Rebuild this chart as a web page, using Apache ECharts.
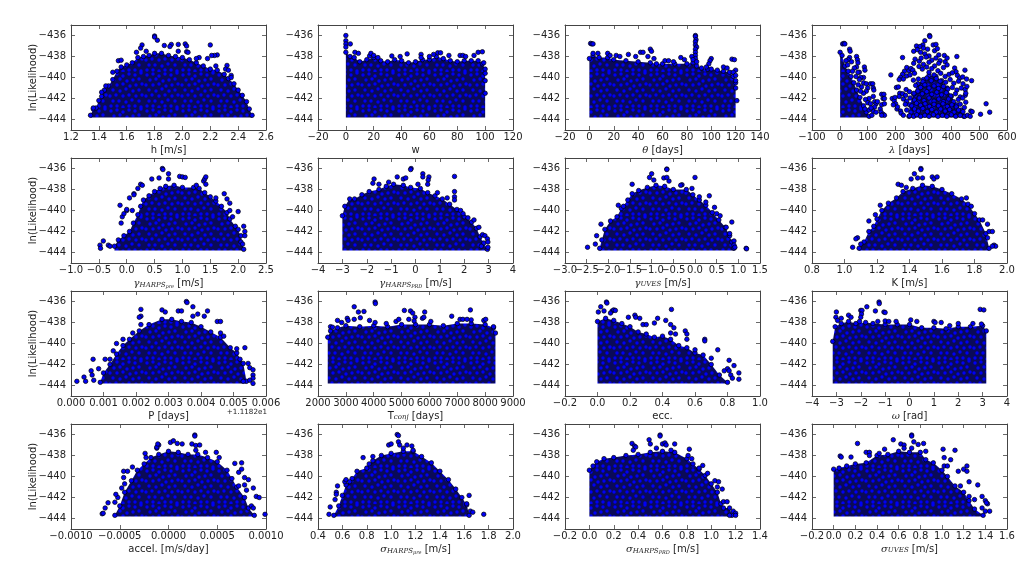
<!DOCTYPE html>
<html><head><meta charset="utf-8">
<style>html,body{margin:0;padding:0;background:#fff}#c{width:1035px;height:570px}</style>
<script src="https://cdn.jsdelivr.net/npm/echarts@6/dist/echarts.min.js"></script>
</head><body><div id="c"></div>
<script>
const yTicks=['−444','−442','−440','−438','−436'];
const floorLL=-443.8;

const t_h=['1.2','1.4','1.6','1.8','2.0','2.2','2.4','2.6'];
const t_w=['−20','0','20','40','60','80','100','120'];
const t_theta=['−20','0','20','40','60','80','100','120','140'];
const t_lambda=['−100','0','100','200','300','400','500','600'];
const t_gpre=['−1.0','−0.5','0.0','0.5','1.0','1.5','2.0','2.5'];
const t_gprd=['−4','−3','−2','−1','0','1','2','3','4'];
const t_guves=['−3.0','−2.5','−2.0','−1.5','−1.0','−0.5','0.0','0.5','1.0','1.5'];
const t_K=['0.8','1.0','1.2','1.4','1.6','1.8','2.0'];
const t_P=['0.000','0.001','0.002','0.003','0.004','0.005','0.006'];
const t_T=['2000','3000','4000','5000','6000','7000','8000','9000'];
const t_ecc=['−0.2','0.0','0.2','0.4','0.6','0.8','1.0'];
const t_om=['−4','−3','−2','−1','0','1','2','3','4'];
const t_acc=['−0.0010','−0.0005','0.0000','0.0005','0.0010'];
const t_spre=['0.4','0.6','0.8','1.0','1.2','1.4','1.6','1.8','2.0'];
const t_sprd=['−0.2','0.0','0.2','0.4','0.6','0.8','1.0','1.2','1.4'];
const t_suv=['−0.2','0.0','0.2','0.4','0.6','0.8','1.0','1.2','1.4','1.6'];

const edge_h=[[1.34,-443.6],[1.36,-443],[1.38,-442.9],[1.40,-442.2],[1.42,-441.8],[1.44,-441.2],[1.47,-440.8],[1.50,-440.2],[1.53,-439.4],[1.56,-439.0],[1.60,-438.8],[1.64,-438.6],[1.68,-438.1],[1.72,-438.0],[1.76,-437.9],[1.80,-437.7],[1.85,-437.7],[1.9,-437.9],[1.95,-438.0],[2.0,-438.1],[2.05,-438.3],[2.1,-438.6],[2.15,-438.9],[2.2,-439.2],[2.25,-439.3],[2.3,-439.7],[2.33,-440.1],[2.37,-440.6],[2.40,-441.2],[2.43,-441.7],[2.46,-442.3],[2.48,-443],[2.50,-443.6]];
const pts_h=[[1.80,-436.05],[1.80,-436.15],[1.82,-436.45],[1.87,-436.95],[1.92,-436.85],[1.91,-437.05],[1.97,-436.85],[2.02,-436.8],[2.03,-437.0],[1.97,-437.5],[2.03,-437.55],[2.04,-437.6],[1.71,-436.9],[1.70,-437.2],[1.67,-437.6],[1.74,-437.5],[2.2,-436.9],[2.25,-437.85],[2.23,-437.9],[2.21,-437.9],[2.18,-438.2],[2.12,-438.1],[2.10,-438.2],[2.24,-438.9],[2.32,-438.85],[2.31,-439.2],[2.33,-439.3],[2.35,-439.8],[2.35,-440.0],[1.54,-438.4],[1.56,-438.35],[1.50,-439.5],[1.42,-441.4],[1.45,-440.8],[1.36,-442.9]];

const edge_w=[[0,-437.6],[3,-438],[6,-438.1],[10,-438.5],[15,-438.3],[20,-438.1],[25,-438.4],[30,-438.5],[35,-438.3],[40,-438.4],[45,-438.6],[50,-438.5],[55,-438.3],[60,-438.3],[65,-438],[70,-438.2],[75,-438.4],[80,-438.5],[85,-438.4],[90,-438.4],[95,-438.4],[98,-438.7],[100,-439.2]];
const pts_w=[[0,-436],[0,-436.5],[0,-436.8],[0,-437.1],[3.2,-436.8],[6.5,-437.6],[9,-437.7],[17,-437.95],[18,-437.7],[20,-437.9],[23,-438.1],[33,-437.95],[39,-438],[44,-437.75],[54,-437.8],[54,-438.1],[60,-438],[63,-437.8],[66,-437.65],[68,-437.65],[74,-437.9],[82,-437.9],[84,-437.9],[86,-438],[92,-437.9],[95,-437.6],[98,-437.55],[99,-438.6],[100,-439.6],[100,-440.3],[100,-441.5]];

const edge_theta=[[0,-438.2],[3,-437.9],[8,-438.1],[15,-438.1],[20,-438.3],[30,-438.4],[40,-438.5],[50,-438.6],[55,-438.7],[60,-438.7],[70,-438.7],[80,-438.7],[85,-438.6],[88,-438.9],[92,-439.1],[97,-439.2],[100,-439.2],[105,-439.3],[110,-439.4],[115,-439.5],[118,-439.9],[120,-440.5]];
const pts_theta=[[1,-436.75],[2,-436.8],[3,-436.8],[87,-436],[87,-436.1],[87.5,-436.4],[87,-436.6],[87,-436.9],[88,-437.1],[87,-437.3],[87,-437.6],[87,-437.9],[87,-438.2],[84,-438],[85,-438.3],[88,-438.5],[3,-437.7],[7,-437.7],[15,-437.7],[17,-437.9],[22,-437.9],[25,-438],[32,-437.8],[38,-438],[42,-437.6],[44,-437.6],[50,-437.3],[51,-437.5],[48,-438],[53,-438.2],[62,-438.4],[65,-438.4],[69,-438.5],[75,-438.1],[78,-438.3],[100,-438.2],[99,-438.4],[98,-438.7],[96,-439.0],[110,-439],[113,-439.1],[117,-438.25],[119,-438.3],[120,-439.3],[118,-439.5],[120,-439.8],[120,-440.3],[120,-441],[121,-442.2]];

const edge_lambda=[[1,-437.6],[8,-437.9],[18,-438.9],[30,-439.4],[40,-439.9],[50,-440.5],[60,-441.2],[72,-441.9],[85,-442.7],[95,-443.3],[105,-443.7]];
const core_lambda=[[248,-443.7],[250,-442.6],[265,-441.6],[280,-440.6],[300,-440.2],[320,-439.8],[345,-439.9],[365,-440.3],[385,-441],[400,-441.8],[420,-442.6],[435,-443.1],[445,-443.7]];
const pts_lambda=[[10,-436.8],[15,-436.75],[18,-436.8],[35,-437.3],[37,-437.5],[35,-438.1],[30,-438.3],[22,-438.4],[42,-438.5],[28,-438.8],[60,-438],[63,-438.3],[65,-438.6],[60,-439],[70,-439.5],[65,-439.5],[52,-439.1],[45,-439.4],[88,-439],[90,-439.3],[85,-440],[75,-440],[70,-440.2],[58,-439.9],[85,-440.5],[95,-440.6],[110,-440.6],[118,-440.6],[78,-440.9],[66,-440.7],[100,-441],[120,-441],[122,-441.2],[95,-441.3],[85,-441.5],[74,-441.3],[120,-441.8],[105,-442],[92,-442.1],[100,-442.4],[125,-442.3],[130,-442.5],[110,-442.5],[125,-442.8],[120,-443.2],[115,-443.6],[130,-443.3],[150,-441.6],[158,-441.6],[155,-442],[160,-442],[150,-442.6],[160,-442.5],[145,-443],[148,-443.3],[155,-443.5],[160,-443.6],[150,-443.6],[135,-442.3],[105,-443.1],[90,-443.0],[112,-442.9],
[183,-439.75],[203,-440.95],[210,-440.9],[188,-442],[195,-442.2],[200,-442.5],[192,-442.6],[205,-443],[207,-442.8],[215,-441.5],[218,-443.2],[220,-443.4],[213,-441.8],[198,-441.9],
[322,-436],[323,-436.1],[305,-436.5],[298,-436.9],[275,-437],[288,-437.05],[335,-436.9],[345,-436.85],[265,-437.5],[278,-437.35],[290,-437.6],[300,-437.2],[315,-437.3],[340,-437.45],[350,-437.25],[225,-438.1],[420,-438],[375,-437.9],[305,-437.75],[320,-437.95],[355,-437.85],[270,-438.25],[285,-438.45],[265,-438.65],[292,-438.15],[310,-438.05],[330,-438.35],[345,-438.15],[360,-438.4],[378,-438.5],[385,-438.15],[300,-438.75],[320,-438.55],[340,-438.9],[355,-438.65],[385,-438.8],[372,-439.05],[240,-439.05],[248,-439.35],[255,-439.15],[262,-439.3],[284,-438.95],[296,-439.2],[312,-439],[330,-439.15],[352,-439.35],[412,-439.1],[417,-439.45],[449,-439.3],[232,-439.4],[225,-439.7],[218,-440],[213,-440.2],[228,-440.15],[240,-439.85],[252,-439.75],[268,-439.6],[320,-439.5],[338,-439.75],[362,-439.6],[378,-439.9],[392,-439.7],[404,-439.55],[422,-439.8],[430,-440.05],[473,-440.3],[441,-439.95],[455,-440.15],[264,-440.25],[282,-440.15],[298,-440.4],[312,-440.05],[328,-440.3],[346,-440.1],[360,-440.35],[380,-440.45],[396,-440.2],[409,-440.55],[426,-440.35],[442,-440.6],[272,-440.75],[290,-440.95],[305,-440.7],[320,-441],[338,-440.8],[354,-441.05],[372,-440.85],[388,-441.1],[404,-440.95],[420,-441.2],[436,-441],[450,-441.15],[456,-440.85],[238,-441.15],[225,-441.55],[236,-441.7],[250,-441.35],[266,-441.5],[280,-441.3],[296,-441.55],[312,-441.35],[330,-441.6],[348,-441.4],[365,-441.65],[382,-441.45],[398,-441.75],[415,-441.55],[432,-441.85],[450,-441.7],[228,-442.05],[240,-442.25],[252,-441.95],[268,-442.15],[285,-441.95],[302,-442.2],[320,-441.95],[338,-442.25],[355,-442.05],[372,-442.3],[390,-442.05],[408,-442.3],[425,-442.1],[441,-441.95],[452,-442.35],[452,-441.5],
[235,-442.55],[258,-442.7],[275,-442.45],[290,-442.65],[306,-442.5],[322,-442.75],[338,-442.55],[354,-442.7],[370,-442.5],[386,-442.75],[402,-442.6],[418,-442.8],[432,-442.55],[447,-442.85],[240,-443.1],[255,-443.3],[268,-443],[282,-443.2],[298,-442.95],[314,-443.25],[330,-443.05],[346,-443.3],[362,-443],[378,-443.2],[394,-443.05],[410,-443.3],[426,-443.1],[442,-443.25],[470,-443.2],[475,-443.25],[525,-442.5],[538,-443.3],[505,-443.5],[228,-443.6],[250,-443.65],[265,-443.7],[276,-443.55],[290,-443.7],[305,-443.6],[320,-443.7],[336,-443.55],[352,-443.7],[368,-443.6],[384,-443.7],[400,-443.55],[416,-443.7],[432,-443.6],[448,-443.7],[458,-443.6],[468,-443.7]];

const edge_gpre=[[-0.22,-443.4],[-0.15,-442.8],[-0.05,-442.4],[0.05,-442],[0.12,-441.2],[0.2,-440.4],[0.25,-439.6],[0.3,-439.0],[0.4,-438.6],[0.5,-438.2],[0.6,-437.9],[0.7,-437.7],[0.85,-437.6],[1.0,-437.8],[1.2,-437.8],[1.3,-437.9],[1.4,-438.3],[1.5,-438.7],[1.6,-439.1],[1.7,-439.6],[1.8,-440.2],[1.85,-440.8],[1.95,-441.5],[2.05,-442.4],[2.1,-443.7]];
const pts_gpre=[[-0.48,-443.3],[-0.47,-443.6],[-0.42,-442.9],[-0.33,-443.3],[-0.3,-443.4],[-0.1,-441.2],[-0.08,-440.6],[-0.05,-440.3],[0.0,-440],[0.0,-439.9],[0.1,-440],[-0.12,-439.5],[0.05,-438.8],[0.13,-438.4],[0.13,-438.5],[0.2,-437.9],[0.25,-437.5],[0.28,-437.6],[0.45,-437],[0.58,-436.9],[0.64,-436],[0.65,-436.1],[0.75,-436.5],[0.75,-437],[0.95,-436.75],[1.0,-436.8],[1.05,-436.85],[1.38,-437.2],[1.4,-437],[1.42,-436.8],[1.42,-437.5],[1.25,-437.6],[1.75,-438.4],[1.6,-438.8],[1.8,-438.9],[1.85,-439.3],[1.85,-440],[2.0,-440.1],[1.9,-440.6],[2.1,-441.5],[2.12,-442],[2.12,-442.4],[2.0,-441.8],[2.05,-443],[2.08,-443.2]];

const edge_gprd=[[-3,-440.5],[-2.9,-439.6],[-2.7,-438.9],[-2.5,-438.9],[-2.2,-438.5],[-1.9,-438.2],[-1.5,-438],[-1.2,-437.7],[-0.9,-437.5],[-0.5,-437.6],[-0.2,-437.8],[0.2,-437.9],[0.5,-438.3],[0.8,-438.6],[1.1,-438.9],[1.4,-439.4],[1.7,-439.9],[2.0,-440.6],[2.3,-441.1],[2.5,-441.7],[2.65,-442.5],[2.8,-443.1],[2.95,-443.7]];
const pts_gprd=[[-1.7,-437],[-1.75,-437.4],[-1.5,-437.5],[-1.1,-437.3],[-0.75,-436.8],[-0.5,-437],[-0.4,-436.9],[-0.18,-436],[-0.2,-436.1],[0.3,-436.5],[0.3,-436.8],[0.55,-436.8],[0.52,-437.1],[0.5,-437.5],[0.1,-437.5],[1.6,-436.75],[1.6,-438.2],[1.6,-438.7],[1.6,-439],[1.3,-438.8],[0.9,-438.3],[1.85,-440],[1.95,-440.3],[2.15,-440.7],[2.4,-440.9],[2.6,-441.6],[2.75,-442.3],[2.85,-442.4],[2.95,-442.7],[2.97,-443],[2.97,-443.5],[2.7,-443.4]];

const edge_guves=[[-2.2,-443.6],[-2.15,-442.8],[-2.08,-441.8],[-1.95,-441],[-1.8,-440.6],[-1.7,-439.8],[-1.55,-439],[-1.45,-438.4],[-1.3,-438.1],[-1.1,-437.8],[-0.9,-437.6],[-0.7,-437.7],[-0.5,-438],[-0.2,-438],[-0.05,-438.5],[0.1,-439],[0.25,-439.5],[0.4,-440.2],[0.55,-440.9],[0.7,-441.6],[0.8,-442.4],[0.85,-443],[0.9,-443.6]];
const pts_guves=[[-2.48,-443.5],[-2.3,-443.2],[-2.27,-442.4],[-2.17,-441.3],[-1.77,-439.5],[-1.65,-439.6],[-1.45,-437.5],[-1.05,-436.85],[-1.0,-436.5],[-0.95,-437.1],[-0.72,-436.9],[-0.65,-436.85],[-0.65,-436.05],[-0.65,-436.1],[-0.6,-437.2],[-0.3,-437.55],[-0.33,-437.6],[0.0,-436.85],[-0.07,-437.9],[0.1,-438.7],[0.33,-438.6],[0.25,-439.2],[0.45,-439.7],[0.5,-440.3],[0.58,-440.5],[0.85,-441.1],[0.72,-441.6],[0.8,-442.2],[0.9,-442.9],[0.9,-443.3],[0.92,-443.5],[1.18,-443.6],[1.19,-443.65]];

const edge_K=[[1.09,-443.6],[1.12,-443],[1.15,-442],[1.18,-441.5],[1.2,-440.8],[1.23,-440],[1.27,-439.3],[1.32,-438.8],[1.36,-438.2],[1.42,-437.9],[1.48,-437.6],[1.54,-437.7],[1.6,-438],[1.66,-438.4],[1.72,-438.9],[1.76,-439.4],[1.8,-440.3],[1.83,-440.9],[1.87,-442.2],[1.89,-443.6]];
const pts_K=[[1.05,-443.5],[1.08,-442.6],[1.07,-442.7],[1.1,-443.2],[1.15,-441],[1.19,-440.4],[1.22,-439.5],[1.33,-437.5],[1.35,-437.6],[1.43,-436.5],[1.41,-437],[1.45,-436.9],[1.47,-436],[1.47,-436.1],[1.48,-436.9],[1.54,-436.8],[1.55,-437],[1.57,-436.8],[1.38,-437.8],[1.75,-438.8],[1.78,-439.6],[1.85,-440.9],[1.88,-441.3],[1.89,-442],[1.91,-442],[1.88,-442.6],[1.92,-443.3],[1.93,-443.4],[1.91,-443.4]];

const edge_P=[[0.0009,-443.7],[0.001,-442.8],[0.0012,-442],[0.0014,-441],[0.0016,-440.2],[0.0018,-439.6],[0.0021,-438.8],[0.0024,-438.2],[0.0028,-437.7],[0.0031,-437.7],[0.0034,-437.9],[0.0037,-438],[0.004,-438.4],[0.0043,-438.9],[0.0046,-439.4],[0.0049,-440.4],[0.0051,-440.9],[0.0053,-441.9],[0.0054,-443.6]];
const pts_P=[[0.00018,-443.6],[0.0004,-443.2],[0.00045,-443.6],[0.00062,-442.6],[0.00068,-441.5],[0.00065,-443],[0.0007,-443.5],[0.00085,-442.4],[0.00105,-441.5],[0.0012,-441.5],[0.0013,-440.7],[0.0014,-440],[0.0016,-439.6],[0.0019,-439],[0.00215,-436.75],[0.00215,-437.4],[0.0021,-437.5],[0.00215,-438.2],[0.0028,-436.8],[0.0029,-437],[0.0033,-436.9],[0.0034,-436.9],[0.00355,-436],[0.00357,-436.1],[0.00375,-436.5],[0.00375,-437.4],[0.0039,-437.2],[0.0042,-436.9],[0.0041,-437.4],[0.0045,-437.9],[0.0046,-437.9],[0.0046,-439],[0.0047,-439.3],[0.00535,-440.4],[0.0051,-440.5],[0.0052,-441.5],[0.00545,-441.9],[0.0055,-442.3],[0.0056,-442.5],[0.0056,-443],[0.0056,-443.3],[0.0055,-443.5],[0.0056,-443.8],[0.0053,-443.6]];

const edge_T=[[2350,-439.4],[2450,-438.8],[2700,-438.5],[3000,-438.3],[3500,-438.4],[4000,-438.3],[4500,-438.4],[5000,-438.2],[5500,-438.2],[6000,-438.2],[6500,-438.3],[7000,-438.1],[7500,-438.1],[8000,-438.2],[8300,-438.5],[8370,-439]];
const pts_T=[[2450,-438.4],[2520,-438.45],[2700,-437.8],[2850,-438],[3050,-437.6],[3080,-437.8],[3300,-436.5],[3450,-437],[3650,-436.95],[3520,-437.55],[3300,-437.7],[3850,-437.8],[4050,-436.05],[4060,-436.2],[4050,-438],[4450,-438.1],[4800,-437.9],[4900,-437.7],[5100,-436.85],[5320,-436.9],[5400,-437.1],[5480,-437.5],[5260,-437.7],[5450,-437.85],[5750,-437.6],[5830,-437],[5800,-437.5],[6050,-437.9],[6800,-437.4],[7100,-437.7],[7200,-437.7],[7470,-436.8],[7500,-437.75],[7350,-437.7],[7950,-437.8],[8020,-437.7],[8300,-438.4]];

const edge_ecc=[[0,-437.9],[0.05,-437.6],[0.1,-437.8],[0.15,-438.1],[0.2,-438.4],[0.25,-438.9],[0.3,-439.1],[0.35,-439.4],[0.4,-439.3],[0.45,-439.6],[0.5,-440.2],[0.55,-440.4],[0.6,-440.9],[0.65,-441.1],[0.7,-442.0],[0.75,-443],[0.8,-443.7]];
const pts_ecc=[[0.005,-437],[0.02,-436.5],[0.04,-436.9],[0.055,-436.05],[0.058,-436.15],[0.09,-436.9],[0.1,-436.8],[0.11,-436.85],[0.08,-437.1],[0.19,-437.5],[0.23,-437.3],[0.235,-437.5],[0.26,-437.6],[0.28,-438.2],[0.3,-438.2],[0.35,-438.05],[0.37,-437.6],[0.42,-437.8],[0.455,-436.75],[0.45,-438.2],[0.47,-438.5],[0.45,-439],[0.48,-439.1],[0.54,-438.8],[0.55,-439.1],[0.55,-439.6],[0.66,-439.6],[0.66,-439.75],[0.74,-440.6],[0.6,-440.6],[0.7,-441.4],[0.81,-441.6],[0.8,-442.4],[0.81,-442.6],[0.82,-443],[0.84,-442.1],[0.87,-442.8],[0.87,-443.4],[0.78,-442.6],[0.83,-443.3]];

const edge_om=[[-3.15,-439.8],[-3.05,-438.4],[-2.8,-438.1],[-2.5,-437.9],[-2.2,-438.1],[-1.8,-438],[-1.5,-438.1],[-1,-438.2],[-0.5,-438.2],[0,-438.2],[0.5,-438.5],[1,-438.5],[1.5,-438.6],[2,-438.4],[2.5,-438.4],[3,-438.3],[3.15,-438.8]];
const pts_om=[[-3,-437],[-3.02,-437.5],[-2.95,-437.8],[-2.8,-437.6],[-2.5,-437.3],[-2.4,-437.5],[-2.05,-437.9],[-2,-436.85],[-1.95,-436.85],[-1.97,-437.2],[-2,-437.5],[-1.75,-436.5],[-1.4,-436.9],[-1.25,-436.05],[-1.24,-436.2],[-1.05,-437],[-1,-437.05],[-1.3,-437.9],[-1.0,-437.85],[-0.85,-437.9],[-0.55,-437.9],[0.05,-437.75],[0.3,-437.9],[1,-437.9],[1.05,-438],[1.3,-438],[2.0,-438.1],[2.6,-438.1],[2.9,-436.75],[3.05,-436.8],[2.95,-438.15],[1.65,-438.3]];

const edge_acc=[[-0.00055,-443.7],[-0.0005,-442.8],[-0.00045,-441.5],[-0.00038,-440.4],[-0.00032,-439.4],[-0.00025,-438.8],[-0.00018,-438.2],[-0.0001,-437.9],[0,-437.6],[0.0001,-437.7],[0.0002,-437.9],[0.0003,-437.9],[0.0004,-438.2],[0.0005,-438.6],[0.0006,-439.4],[0.00065,-440.2],[0.0007,-441],[0.00078,-442],[0.00082,-443],[0.00088,-443.7]];
const pts_acc=[[-0.00068,-443.55],[-0.00067,-443.5],[-0.00065,-443],[-0.00062,-442.5],[-0.00055,-442.45],[-0.00052,-442],[-0.00054,-441.7],[-0.00048,-441.1],[-0.00045,-440.7],[-0.00046,-440.1],[-0.00046,-439.5],[-0.00042,-439.5],[-0.00037,-439.1],[-0.00024,-437.8],[-0.00023,-438.2],[-0.00012,-437.3],[-0.0001,-437],[-0.00012,-437.2],[-0.00011,-436.9],[0.00002,-436.75],[0.00005,-436.6],[0.00009,-436.85],[0.00014,-436.9],[0.00024,-436.9],[0.00027,-436.05],[0.00027,-436.15],[0.00028,-437.05],[0.00032,-437],[0.00028,-437.5],[0.00038,-437.7],[0.00049,-437.7],[0.00052,-438.2],[0.00068,-438.75],[0.00075,-438.7],[0.00072,-439.6],[0.00075,-439.3],[0.00078,-440.1],[0.00082,-440.3],[0.00078,-440.8],[0.00072,-440.9],[0.0008,-441.3],[0.00087,-441.1],[0.0009,-441.9],[0.00093,-442],[0.00085,-442.8],[0.00087,-443],[0.00099,-443.6]];

const edge_spre=[[0.53,-443.7],[0.57,-442.8],[0.6,-441.8],[0.63,-440.8],[0.68,-440.2],[0.72,-439.5],[0.8,-439.2],[0.85,-438.5],[0.92,-438],[1.0,-437.8],[1.1,-437.6],[1.18,-437.6],[1.25,-438.1],[1.33,-438.7],[1.4,-439.5],[1.47,-440.3],[1.53,-441.2],[1.58,-442],[1.62,-442.7],[1.64,-443.7]];
const pts_spre=[[0.49,-443.6],[0.5,-442.9],[0.54,-442.2],[0.55,-441.5],[0.56,-440.9],[0.55,-441.7],[0.62,-440.5],[0.63,-440.3],[0.66,-440.5],[0.77,-438.2],[0.85,-438.1],[0.82,-438.8],[0.98,-437],[1.0,-436.9],[1.05,-436],[1.06,-436.1],[1.06,-436.7],[1.07,-437],[1.13,-437],[1.17,-437.1],[1.18,-437.5],[1.1,-437.3],[1.64,-441.8],[1.62,-442.6],[1.65,-443.3],[1.67,-443.4],[1.76,-443.6]];

const edge_sprd=[[0,-439.4],[0.03,-439],[0.06,-438.6],[0.12,-438.3],[0.2,-438.2],[0.3,-438],[0.4,-437.9],[0.5,-437.7],[0.6,-437.6],[0.7,-437.7],[0.8,-438.3],[0.85,-438.8],[0.9,-439.3],[0.95,-439.9],[1.0,-440.7],[1.05,-441.5],[1.08,-442.6],[1.1,-443],[1.15,-443],[1.17,-443.7]];
const pts_sprd=[[0.35,-436.85],[0.37,-437.1],[0.38,-437.2],[0.36,-437.5],[0.49,-436.5],[0.5,-436.9],[0.58,-436.05],[0.58,-436.15],[0.6,-436.9],[0.62,-436.8],[0.63,-437],[0.7,-436.9],[0.55,-437.3],[0.67,-437.5],[0.82,-437.4],[0.81,-438],[0.84,-438.3],[0.93,-438.95],[0.9,-439.2],[0.97,-439.7],[1.03,-440.4],[1.06,-440.5],[1.05,-441],[1.09,-441.2],[1.1,-442.4],[1.13,-442.4],[1.18,-443.3],[1.2,-443.5],[1.2,-443.7],[1.15,-443.7]];

const edge_suv=[[0,-439.3],[0.05,-439.2],[0.12,-439],[0.2,-438.8],[0.3,-438.7],[0.4,-438],[0.5,-437.9],[0.6,-437.6],[0.7,-437.7],[0.8,-437.7],[0.85,-438.4],[0.92,-438.7],[1.0,-439.4],[1.05,-440],[1.12,-440.9],[1.2,-441.5],[1.25,-442.3],[1.3,-443.1],[1.38,-443.7]];
const pts_suv=[[0.06,-438.05],[0.07,-438.15],[0.16,-438.15],[0.22,-436.85],[0.3,-437.7],[0.33,-437.7],[0.33,-438],[0.42,-437.8],[0.47,-437.4],[0.55,-436.5],[0.62,-436.9],[0.65,-437],[0.65,-437.3],[0.72,-436.05],[0.72,-436.15],[0.74,-436.7],[0.78,-436.95],[0.83,-436.85],[0.72,-437.3],[0.85,-437.6],[1.01,-437.4],[1.02,-438.2],[1.12,-437.5],[1.08,-438.4],[1.02,-439],[1.05,-439],[1.23,-439],[1.2,-439.3],[1.23,-439.5],[1.15,-439.5],[1.25,-440.5],[1.33,-440.8],[1.17,-440.9],[1.25,-441.9],[1.3,-442.2],[1.37,-441.9],[1.4,-442.3],[1.42,-442.6],[1.41,-442.5],[1.44,-443.3],[1.37,-443],[1.4,-443.3]];

const rich={g:{fontFamily:'DejaVu Serif',fontStyle:'italic',fontSize:10,color:'#222'},s:{fontFamily:'DejaVu Serif',fontStyle:'italic',fontSize:7,color:'#222',padding:[3,0,0,0]},ss:{fontFamily:'DejaVu Serif',fontStyle:'italic',fontSize:5,color:'#222',padding:[6,0,0,0]},t:{fontFamily:'DejaVu Sans',fontSize:10,color:'#222'}};

const panels=[
 {name:'h [m/s]',min:1.2,max:2.6,t:t_h,edges:[edge_h],pts:pts_h},
 {name:'w',min:-20,max:120,t:t_w,edges:[edge_w],pts:pts_w},
 {name:'{g|θ}{t| [days]}',min:-20,max:140,t:t_theta,edges:[edge_theta],pts:pts_theta},
 {name:'{g|λ}{t| [days]}',min:-100,max:600,t:t_lambda,edges:[edge_lambda,core_lambda],pts:pts_lambda},
 {name:'{g|γ}{s|HARPS}{ss|pre}{t| [m/s]}',min:-1,max:2.5,t:t_gpre,edges:[edge_gpre],pts:pts_gpre},
 {name:'{g|γ}{s|HARPS}{ss|PRD}{t| [m/s]}',min:-4,max:4,t:t_gprd,edges:[edge_gprd],pts:pts_gprd},
 {name:'{g|γ}{s|UVES}{t| [m/s]}',min:-3,max:1.5,t:t_guves,edges:[edge_guves],pts:pts_guves,crowdedFirst:true},
 {name:'K [m/s]',min:0.8,max:2,t:t_K,edges:[edge_K],pts:pts_K},
 {name:'P [days]',min:0,max:0.006,t:t_P,edges:[edge_P],pts:pts_P},
 {name:'{t|T}{s|conj}{t| [days]}',min:2000,max:9000,t:t_T,edges:[edge_T],pts:pts_T},
 {name:'ecc.',min:-0.2,max:1,t:t_ecc,edges:[edge_ecc],pts:pts_ecc},
 {name:'{g|ω}{t| [rad]}',min:-4,max:4,t:t_om,edges:[edge_om],pts:pts_om},
 {name:'accel. [m/s/day]',min:-0.001,max:0.001,t:t_acc,edges:[edge_acc],pts:pts_acc},
 {name:'{g|σ}{s|HARPS}{ss|pre}{t| [m/s]}',min:0.4,max:2,t:t_spre,edges:[edge_spre],pts:pts_spre},
 {name:'{g|σ}{s|HARPS}{ss|PRD}{t| [m/s]}',min:-0.2,max:1.4,t:t_sprd,edges:[edge_sprd],pts:pts_sprd},
 {name:'{g|σ}{s|UVES}{t| [m/s]}',min:-0.2,max:1.6,t:t_suv,edges:[edge_suv],pts:pts_suv}
];

const num=s=>Number(s.replace('−','-'));
const lefts=[71,318,565,812], tops=[25,158,291,424];
const W=195,H=105, axisCol='#444', txt='#222';

// texture for the dense mass: a hand-placed tile of dots
const tileDots=[[3,3],[9,2],[15,4],[21,2],[27,3],[33,1],[6,8],[12,7],[19,9],[25,8],[31,7],[2,13],[9,13],[15,12],[22,14],[28,13],[34,12],[5,18],[12,19],[18,17],[25,19],[31,18],[2,24],[8,23],[15,24],[21,23],[28,24],[34,23],[5,29],[11,29],[18,30],[24,28],[31,29],[3,34],[9,34],[15,35],[21,34],[27,34],[33,35]];
const tile=document.createElement('canvas');tile.width=36;tile.height=36;
const tc=tile.getContext('2d');tc.fillStyle='#0a0a58';tc.fillRect(0,0,36,36);
tileDots.forEach(d=>{tc.beginPath();tc.arc(d[0],d[1],1.7,0,Math.PI*2);tc.fillStyle='#0000f5';tc.fill();});
const pattern={image:tile,repeat:'repeat'};

const grids=[],xAxes=[],yAxes=[],series=[];
panels.forEach((p,i)=>{
  const col=i%4,row=Math.floor(i/4);
  grids.push({left:lefts[col],top:tops[row],width:W,height:H});
  const vals=p.t.map(num);
  const labelOf=v=>{let k=vals.findIndex(u=>Math.abs(u-v)<1e-9);if(k===0&&p.crowdedFirst)return '';return k<0?'':p.t[k];};
  const base={gridIndex:i,type:'value',min:p.min,max:p.max,splitLine:{show:false},axisLine:{show:true,onZero:false,lineStyle:{color:axisCol,width:1}}};
  const tick=(cv)=>({show:true,inside:true,length:4,customValues:cv,lineStyle:{color:axisCol,width:0.8}});
  xAxes.push(Object.assign({},base,{position:'bottom',name:p.name,nameLocation:'middle',nameGap:15,nameMoveOverlap:false,
    nameTextStyle:{fontFamily:'DejaVu Sans',fontSize:10,color:txt,rich},
    axisTick:tick(vals),axisLabel:{show:true,customValues:vals,formatter:labelOf,fontFamily:'DejaVu Sans',fontSize:10,color:txt,margin:2,showMinLabel:true,showMaxLabel:true,hideOverlap:false}}));
  xAxes.push(Object.assign({},base,{position:'top',axisTick:tick(vals),axisLabel:{show:false}}));
  const yv=yTicks.map(num);
  const yb=Object.assign({},base,{min:-445,max:-435});
  yAxes.push(Object.assign({},yb,{position:'left',name:col===0?'ln(Likelihood)':'',nameLocation:'middle',nameGap:33,nameMoveOverlap:false,
    nameTextStyle:{fontFamily:'DejaVu Sans',fontSize:10,color:txt},
    axisTick:tick(yv),axisLabel:{show:true,customValues:yv,formatter:v=>yTicks[yv.indexOf(v)]||'',fontFamily:'DejaVu Sans',fontSize:10,color:txt,margin:5}}));
  yAxes.push(Object.assign({},yb,{position:'right',axisTick:tick(yv),axisLabel:{show:false}}));
  const xi=2*i,yi=2*i;
  const sym={symbol:'circle',symbolSize:4.5,itemStyle:{color:'#0000f5',borderColor:'#000',borderWidth:0.7,opacity:1}};
  p.edges.forEach(edge=>{
    series.push({type:'custom',xAxisIndex:xi,yAxisIndex:yi,data:edge,silent:true,z:1,
      encode:{x:0,y:1},
      renderItem:(params,api)=>{
        if(params.dataIndex!==0) return null;
        const poly=[[edge[0][0],floorLL],...edge,[edge[edge.length-1][0],floorLL]];
        return {type:'polygon',shape:{points:poly.map(q=>api.coord(q))},style:{fill:pattern}};
      }});
    series.push(Object.assign({type:'scatter',xAxisIndex:xi,yAxisIndex:yi,data:edge,z:2,silent:true},sym));
  });
  series.push(Object.assign({type:'scatter',xAxisIndex:xi,yAxisIndex:yi,data:p.pts,z:3,silent:true},sym));
});
const offsetText='+1.1182e1';
const chart=echarts.init(document.getElementById('c'),null,{renderer:'canvas'});
chart.setOption({animation:false,backgroundColor:'#fff',grid:grids,xAxis:xAxes,yAxis:yAxes,series});
const graphics=[{type:'text',right:1035-267,top:409,style:{text:offsetText,font:'7.2px "DejaVu Sans"',fill:txt}}];
panels.forEach((p,i)=>{
  if(!p.crowdedFirst) return;
  const px=chart.convertToPixel({xAxisIndex:2*i},num(p.t[0]));
  const row=Math.floor(i/4);
  graphics.push({type:'text',x:px,y:tops[row]+H+2,style:{text:p.t[0],font:'10px "DejaVu Sans"',fill:txt,textAlign:'center',textVerticalAlign:'top'}});
});
chart.setOption({graphic:graphics});
</script></body></html>
